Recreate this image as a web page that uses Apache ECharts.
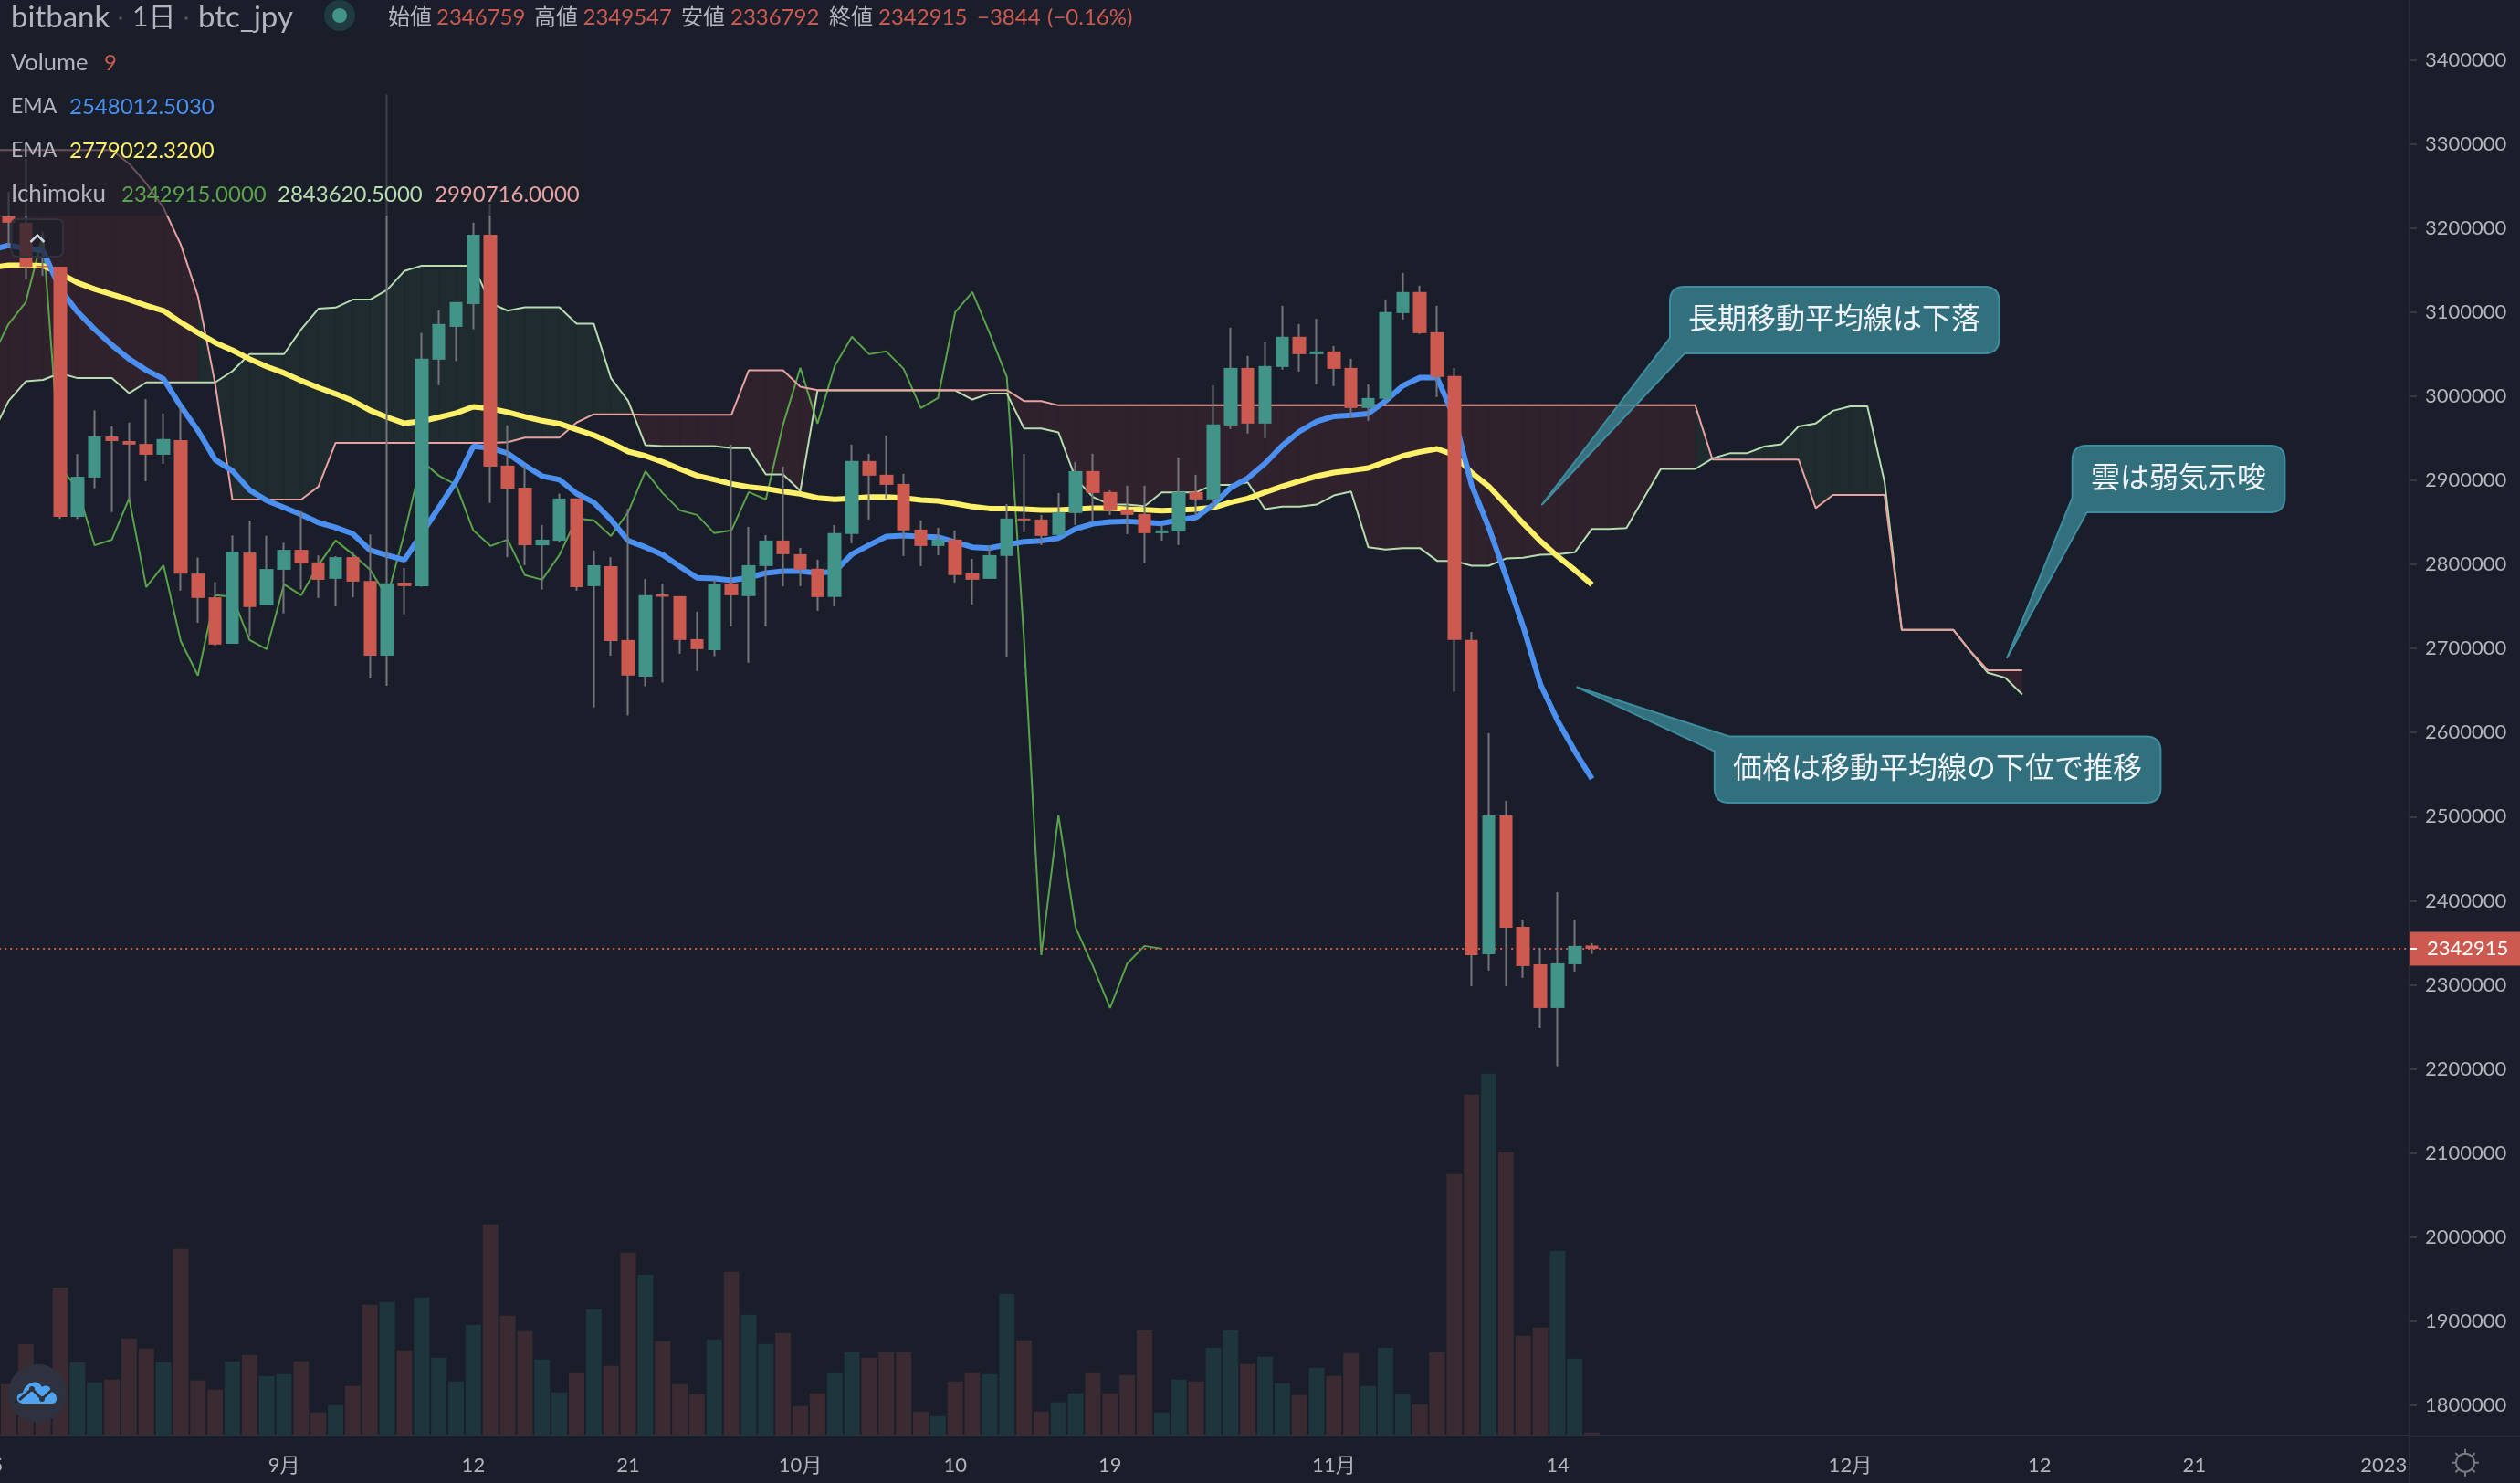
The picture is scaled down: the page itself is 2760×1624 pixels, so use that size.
<!DOCTYPE html>
<html>
<head>
<meta charset="utf-8">
<title>bitbank btc_jpy</title>
<style>
  html, body { margin: 0; padding: 0; background: #1a1e2a; }
  #chart { width: 2760px; height: 1624px; }
</style>
<script src="https://cdn.jsdelivr.net/npm/echarts@6/dist/echarts.min.js"></script>
</head>
<body>
<div id="chart"></div>
<script>
// prices in thousand JPY. one entry per day from 2022-08-15,
// the first day sits just off the left edge of the page
const opens = [3190,3213.8,3206.2,3155,3153.9,2856.4,2903.3,2952,2946.6,2943.2,2930.4,2947.8,2789,2760.8,2705.5,2814,2751.3,2793.6,2817.3,2802.4,2782.8,2808.6,2780.3,2691.4,2778.3,2774.1,3043.4,3082.4,3109.4,3192.1,2917.5,2891.3,2822.7,2828.1,2878.4,2774.1,2797.8,2710.1,2666.6,2764.4,2762.2,2711.1,2698.1,2777.4,2762.2,2798,2828.4,2812.1,2794.8,2761.1,2836,2922.9,2906.6,2895.7,2841.4,2821.9,2829.5,2789.3,2782.8,2810,2854.5,2853.4,2834.9,2861,2910.9,2886,2865.3,2859.9,2837.1,2839.3,2886,2877.3,2965.2,3033.6,2967.4,3034.7,3070.6,3049.9,3053.2,3033.6,2985.9,2996.7,3098.8,3123.8,3076,3023.9,2710.1,2336.5,2501.5,2369,2324.5,2272.4,2324.5,2346.759];
const closes = [3213.8,3206.3,3153.5,3153.5,2856.4,2904.2,2952,2946.6,2942.4,2930.4,2949,2789,2760,2704.7,2815.2,2749.2,2794.5,2817.3,2801.1,2781.6,2808.6,2779.5,2691.4,2777.4,2774.1,3044.6,3085.8,3111.9,3192.1,2916.2,2889.6,2822.7,2829.4,2878.4,2772.9,2799,2708.9,2667.8,2763.3,2761.5,2710.1,2699.2,2776.3,2763.3,2799.1,2828.4,2812.1,2793.7,2761.1,2837.1,2922.9,2905.5,2894.6,2840.4,2821.9,2829.5,2787.2,2781.7,2811,2854.5,2852.3,2833.8,2862.1,2910.9,2884.9,2864.2,2858.8,2837.1,2840.4,2886,2877.3,2966.3,3033.6,2967.4,3035.8,3070.6,3049.9,3053.2,3032.5,2985.9,2997.8,3099.9,3123.8,3074.9,3022.8,2710.1,2335.4,2501.5,2368,2322.4,2272.4,2325.6,2346.3,2342.915];
const highs = [3220,3242.8,3281.9,3195.9,3153.9,2931.2,2983.1,2964,2968.6,2996.4,2979.4,2986.9,2808.2,2779.1,2834.4,2852.2,2834,2825.6,2863.4,2810.7,2809.8,2814.8,2835.6,3359,2795.7,3075.4,3102,3111.9,3206.3,3229,2965.3,2917.5,2846.8,2884.2,2878.4,2816.5,2808.6,2866,2782.5,2777,2762.2,2743.7,2781.7,2942.4,2844.7,2834.9,2916.4,2819.7,2805.6,2846.9,2942.4,2931.6,2953.3,2907.7,2852.3,2843.6,2840.4,2806.7,2822.3,2871.8,2931.6,2858.8,2884.9,2921.8,2931.6,2888.1,2893.6,2893.6,2846.9,2927.2,2906.6,3013,3081.4,3047.8,3064,3107.5,3085.8,3091.9,3059.7,3044.5,3014.1,3115.1,3146.6,3131.4,3107.5,3033.6,2719.8,2599.2,2518.9,2377.7,2344.1,2410.3,2377.7,2349.547];
const lows = [3185,3177,3139,3143,2854,2853.9,2890.5,2862.2,2877.2,2898.8,2919.6,2768.7,2730.5,2703.5,2705.5,2713.9,2751.3,2741.7,2770,2760,2750,2760.8,2664.4,2655.7,2740.9,2773.3,3013,3041.7,3079.5,2873,2808.6,2799,2770,2826,2768.7,2630,2691.4,2620.4,2655,2659.4,2693.8,2673.1,2690.9,2726.3,2683,2726.3,2774.1,2774.1,2744.8,2750.2,2825,2853.4,2878.4,2810,2798,2811,2778.5,2752.4,2782.8,2689.4,2838.2,2823,2834.9,2846.9,2850.1,2858.8,2836,2801.3,2828.4,2823,2858,2866.4,2960.9,2955.5,2950,3031.5,3029.3,3014.1,3011.9,2974.3,2970.7,2995,3091.2,3073.8,2998.9,2648.5,2298.5,2317,2298.5,2308.3,2248.5,2203.3,2315.9,2336.792];
const volumes = [150,168,299,190,485,240,174,183,318,285,240,612,180,150,243,264,195,201,243,75,99,162,429,438,279,453,255,177,363,693,393,342,249,141,204,414,228,600,528,309,168,135,315,537,396,300,336,96,138,204,273,255,273,273,78,63,177,207,201,465,312,78,108,138,204,138,198,345,75,183,177,288,345,234,258,171,132,222,195,270,162,288,135,102,273,858,1119,1188,930,327,354,606,252,9];

const emaFast = [3174,3179.3,3176,3173,3127.3,3100.3,3079.5,3060.8,3044.2,3030.9,3020.5,2988.1,2959,2924.5,2911.2,2888.4,2875.9,2867.6,2859.3,2849.7,2843.9,2836.4,2816.9,2810.7,2805.3,2836.4,2867.6,2898.8,2940.3,2938.2,2932,2917.5,2905,2900.8,2884.2,2873.8,2853,2828.1,2820.5,2811.4,2797.7,2783.9,2783.2,2781,2784.3,2789.7,2791.9,2791.9,2789.7,2791.5,2812.1,2823,2833.1,2834.2,2833.1,2832.4,2826.6,2820.5,2819.4,2823.4,2827,2828.1,2831.3,2842.2,2848.3,2850.5,2851.2,2850.1,2848.7,2853,2855.9,2871.1,2891,2902.6,2920,2941,2958,2969.9,2976,2977.2,2979.3,2994.2,3012.3,3022,3022,2974.3,2894.6,2844,2786,2726.3,2657.5,2614.1,2577.9,2545];
const emaSlow = [3153,3155.6,3155.6,3155.2,3146,3134.8,3127.3,3121.1,3114.8,3107.8,3101.6,3087.8,3075.4,3063.7,3054.6,3044.2,3035.1,3027.6,3018.4,3010.1,3002.7,2994.3,2983.1,2974.8,2967.7,2970.2,2974.8,2979.8,2987.3,2985.2,2981,2975.6,2970.7,2967.3,2960.3,2953.6,2944.5,2934.1,2929,2921.8,2913.5,2905.5,2900.8,2895.7,2892.1,2890,2886.7,2883.8,2879.1,2877.3,2878.4,2880.2,2880.2,2879.1,2876.6,2875.5,2872.2,2868.6,2866.4,2866.4,2865.7,2864.6,2864.6,2865.7,2866.8,2866.8,2865.7,2865,2863.9,2864.6,2865.7,2867.5,2873.7,2878.4,2885.6,2892.8,2899,2904.8,2909.1,2911.7,2914.6,2921.8,2929,2933.7,2937.4,2930.1,2909.1,2892.8,2871.1,2848.7,2827.7,2809.6,2793.3,2776];

const lagSpan = [3044.6,3085.8,3111.9,3192.1,2916.2,2889.6,2822.7,2829.4,2878.4,2772.9,2799,2708.9,2667.8,2763.3,2761.5,2710.1,2699.2,2776.3,2763.3,2799.1,2828.4,2812.1,2793.7,2761.1,2837.1,2922.9,2905.5,2894.6,2840.4,2821.9,2829.5,2787.2,2781.7,2811,2854.5,2852.3,2833.8,2862.1,2910.9,2884.9,2864.2,2858.8,2837.1,2840.4,2886,2877.3,2966.3,3033.6,2967.4,3035.8,3070.6,3049.9,3053.2,3032.5,2985.9,2997.8,3099.9,3123.8,3074.9,3022.8,2710.1,2335.4,2501.5,2368,2322.4,2272.4,2325.6,2346.3,2342.915];
const spanA = [2952.8,2994.3,3017.6,3019.3,3027.2,3021.4,3021.4,3021.4,3003.5,3016.4,3016.4,3016.4,3016.4,3016.4,3029.7,3050,3050,3050,3079.5,3104,3105.3,3114.8,3114.8,3126.5,3148.9,3155.2,3155.2,3155.2,3155.2,3110.7,3101.6,3105.7,3105.7,3105.7,3086.2,3086.2,3021.4,2994.3,2941.7,2940.6,2940.6,2940.6,2940.6,2938.1,2938.1,2907,2907,2887.4,3006.8,3006.8,3006.8,3006.8,3006.8,3006.8,3006.8,3006.8,3006.8,2996,3003.2,3003.2,2961.6,2961.6,2956.9,2901.9,2880.2,2871.1,2871.1,2869.3,2885.6,2885.6,2885.6,2894.6,2894.6,2897.5,2865.7,2868.6,2868.6,2871.1,2882,2886.7,2820.5,2817.6,2819.4,2819.4,2804.2,2804.2,2798.4,2798.4,2807,2807.8,2811.4,2812.1,2814.3,2842.2,2842.2,2843.3,2878.4,2913.5,2913.5,2913.5,2925.9,2932.1,2932.1,2940.1,2942.7,2964,2967.6,2982.6,2987.9,2987.9,2897.9,2722,2722,2722,2722,2696.3,2671.1,2665.3,2645.4];
const spanB = [3292.8,3292.8,3292.8,3292.8,3292.8,3292.8,3292.8,3292.8,3276.5,3252.9,3224,3180.5,3118.9,3015.1,2877.2,2877.2,2877.2,2877.2,2877.2,2892.5,2944.5,2944.5,2944.5,2944.5,2944.5,2944.5,2944.5,2944.5,2944.5,2944.5,2945.3,2950.7,2950.7,2950.7,2968.6,2978.5,2978.5,2978.5,2977.9,2977.9,2977.9,2977.9,2977.9,2977.9,3030.7,3030.7,3030.7,3011.2,3007.2,3007.2,3007.2,3007.2,3007.2,3007.2,3007.2,3007.2,3007.2,3007.2,3007.2,3007.2,2994.2,2994.2,2989.1,2989.1,2989.1,2989.1,2989.1,2989.1,2989.1,2989.1,2989.1,2989.1,2989.1,2989.1,2989.1,2989.1,2989.1,2989.1,2989.1,2989.1,2989.1,2989.1,2989.1,2989.1,2989.1,2989.1,2989.1,2989.1,2989.1,2989.1,2989.1,2989.1,2989.1,2989.1,2989.1,2989.1,2989.1,2989.1,2989.1,2989.1,2924.6,2924.6,2924.6,2924.6,2924.6,2924.6,2866.9,2882.5,2882.5,2882.5,2882.5,2722,2722,2722,2722,2696.3,2674.2,2674.2,2674.2];

const lastPrice = 2342.915;
const tickDates = ['2022-08-15','2022-09-01','2022-09-12','2022-09-21','2022-10-01','2022-10-10','2022-10-19','2022-11-01','2022-11-14','2022-12-01','2022-12-12','2022-12-21','2023-01-01'];

// the time axis runs on past the last candle, out to the right edge of the plot
const dates = [];
for (let i = 0; i < 141; i++) {
  dates.push(new Date(Date.UTC(2022, 7, 15 + i)).toISOString().slice(0, 10));
}

const BG = '#1a1e2a';
const UP = '#429488', DOWN = '#cc5a50';
const UP_VOL = '#1d353b', DOWN_VOL = '#3a2a31';
const GREY = '#b2b5be', LINE = '#2d313d';
const FONT = 'Lato, "Noto Sans CJK JP", sans-serif';

const isTickDate = i => tickDates.includes(dates[i]);
const dateLabel = d => {
  const [y, m, day] = d.split('-').map(Number);
  if (day !== 1) return String(day);
  return m === 1 ? String(y) : m + '月';
};

const wickData = opens.map((o, i) => [o, closes[i], lows[i], highs[i]]);
const bodyData = opens.map((o, i) => [o, closes[i], Math.min(o, closes[i]), Math.max(o, closes[i])]);
const cloudData = spanA.slice(0, -1).map((a, i) => [i, a, spanB[i], spanA[i + 1], spanB[i + 1]]);

const chart = echarts.init(document.getElementById('chart'));

function text(str, x, y, fill, size, align) {
  return {
    type: 'text', silent: true,
    style: { text: str, x, y, fill, font: size + 'px ' + FONT, textAlign: align || 'left', textVerticalAlign: 'middle' }
  };
}

// graphic has no plain path type, svg strings have to be registered as shapes
function pathShape(name, pathData) {
  echarts.graphic.registerShape(name, echarts.graphic.extendPath(pathData, {}));
  return name;
}

function callout(name, path, label, x, y) {
  return [
    { type: pathShape(name, path), silent: true, style: { fill: 'rgba(57,133,148,0.8)', stroke: '#3e8ca0', lineWidth: 2 } },
    text(label, x, y, '#f0f3fa', 32, 'center')
  ];
}

const gearSpokes = [];
for (let a = 0; a < 8; a++) {
  const c = Math.cos(a * Math.PI / 4), s = Math.sin(a * Math.PI / 4);
  gearSpokes.push({
    type: 'line', silent: true,
    shape: { x1: 2700 + 10 * c, y1: 1601.7 + 10 * s, x2: 2700 + 15 * c, y2: 1601.7 + 15 * s },
    style: { stroke: '#787b86', lineWidth: 2 }
  });
}

const graphics = [
  // legend backdrop dims whatever runs under it
  { type: 'rect', silent: true, shape: { x: 0, y: 36, width: 640, height: 200 }, style: { fill: 'rgba(26,30,42,0.6)' } },

  text('bitbank', 12, 19, GREY, 33),
  { type: 'circle', silent: true, shape: { cx: 132, cy: 20, r: 2 }, style: { fill: '#4a4e59' } },
  text('1日', 145, 19, GREY, 30),
  { type: 'circle', silent: true, shape: { cx: 204, cy: 20, r: 2 }, style: { fill: '#4a4e59' } },
  text('btc_jpy', 217, 19, GREY, 33),
  { type: 'circle', silent: true, shape: { cx: 372, cy: 17, r: 17 }, style: { fill: '#1f3a40' } },
  { type: 'circle', silent: true, shape: { cx: 372, cy: 17, r: 8 }, style: { fill: UP } },

  text('始値', 425, 19, GREY, 24),
  text('2346759', 478, 19, DOWN, 24),
  text('高値', 585, 19, GREY, 24),
  text('2349547', 638.5, 19, DOWN, 24),
  text('安値', 746, 19, GREY, 24),
  text('2336792', 800, 19, DOWN, 24),
  text('終値', 908, 19, GREY, 24),
  text('2342915', 962, 19, DOWN, 24),
  text('−3844', 1070, 19, DOWN, 24),
  text('(−0.16%)', 1147, 19, DOWN, 24),

  text('Volume', 12, 69, GREY, 25.5),
  text('9', 114, 69, DOWN, 24),
  text('EMA', 12, 117, GREY, 23),
  text('2548012.5030', 76, 117, '#4b8ff0', 24),
  text('EMA', 12, 165, GREY, 23),
  text('2779022.3200', 76, 165, '#fff06a', 24),
  text('Ichimoku', 12, 213, GREY, 26),
  text('2342915.0000', 133, 213, '#5ba24c', 24),
  text('2843620.5000', 304, 213, '#b6dcb0', 24),
  text('2990716.0000', 476, 213, '#e8a1a0', 24),

  // collapse button
  { type: 'rect', silent: true, shape: { x: 12.5, y: 240, width: 56.5, height: 41, r: 6 }, style: { fill: 'rgba(26,30,42,0.72)', stroke: '#2f333f', lineWidth: 2 } },
  { type: 'polyline', silent: true, shape: { points: [[33.5, 265], [41, 257.5], [48.5, 265]] }, style: { stroke: '#d1d4dc', lineWidth: 2.5, fill: null } },

  ...callout('calloutLong', 'M1845 314 H2173.5 Q2189.5 314 2189.5 330 V371 Q2189.5 387 2173.5 387 H1845 L1688.4 553 L1829 370 V330 Q1829 314 1845 314 Z', '長期移動平均線は下落', 2009, 349.5),
  ...callout('calloutCloud', 'M2285.7 488 H2486.4 Q2502.4 488 2502.4 504 V545 Q2502.4 561 2486.4 561 H2285.6 L2198 720.8 L2269.7 545 V504 Q2269.7 488 2285.7 488 Z', '雲は弱気示唆', 2386, 523.5),
  ...callout('calloutPrice', 'M1894 806.5 H2350.4 Q2366.4 806.5 2366.4 822.5 V863 Q2366.4 879 2350.4 879 H1893.8 Q1877.8 879 1877.8 863 V822.7 L1726.6 752.3 Z', '価格は移動平均線の下位で推移', 2122, 842),

  // axis frame reaches the edge of the page
  { type: 'rect', silent: true, shape: { x: 2639, y: 1571.7, width: 121, height: 2 }, style: { fill: LINE } },
  { type: 'rect', silent: true, shape: { x: 2639, y: 1038, width: 8, height: 2 }, style: { fill: '#ffffff' } },

  // logo
  { type: 'circle', silent: true, shape: { cx: 41, cy: 1525.7, r: 32 }, style: { fill: '#2e323f' } },
  { type: pathShape('logoCloud', 'M26 1537 C17 1537 16 1526 25 1525 C27 1515 41 1508 46 1519 C52 1515 57 1520 55 1524 C63 1524 65 1537 57 1537 Z'), silent: true, style: { fill: '#4fa3ef' } },
  { type: 'polyline', silent: true, shape: { points: [[21, 1533], [35, 1521], [46, 1532], [60, 1519]] }, style: { stroke: '#2e323f', lineWidth: 3, fill: null } },
  { type: 'circle', silent: true, shape: { cx: 35, cy: 1521, r: 3 }, style: { fill: '#2e323f' } },
  { type: 'circle', silent: true, shape: { cx: 46, cy: 1532, r: 3 }, style: { fill: '#2e323f' } },

  // settings icon
  { type: 'circle', silent: true, shape: { cx: 2700, cy: 1601.7, r: 10 }, style: { fill: null, stroke: '#787b86', lineWidth: 2 } },
  ...gearSpokes
].map(g => ({ ...g, z: 100 }));

const option = {
  backgroundColor: BG,
  animation: false,
  textStyle: { fontFamily: FONT },
  // outerBoundsMode off: the plot deliberately hangs over the page edges
  grid: [
    { left: -18.85, width: 2657.85, top: -26.67, height: 1657.8, outerBoundsMode: 'none' },
    { left: -18.85, width: 2657.85, top: 0, height: 1571.7, outerBoundsMode: 'none' }
  ],
  xAxis: [
    { type: 'category', gridIndex: 0, data: dates, show: false },
    {
      type: 'category', gridIndex: 1, data: dates,
      axisLine: { lineStyle: { color: LINE, width: 2 } },
      axisTick: { alignWithLabel: true, length: 7, interval: i => isTickDate(i), lineStyle: { color: '#363a45', width: 2 } },
      axisLabel: { interval: i => isTickDate(i), formatter: dateLabel, color: GREY, fontSize: 22, margin: 22, hideOverlap: false }
    }
  ],
  yAxis: [
    {
      type: 'value', gridIndex: 0, position: 'right', min: 1700, max: 3500, interval: 100,
      splitLine: { show: false },
      axisLine: { show: true, lineStyle: { color: LINE, width: 2 } },
      axisTick: { show: true, length: 8, lineStyle: { color: '#363a45', width: 2 } },
      axisLabel: { color: GREY, fontSize: 22, margin: 17, padding: [8, 0, 0, 0], showMinLabel: false, showMaxLabel: false, formatter: v => String(v * 1000) }
    },
    { type: 'value', gridIndex: 1, min: 0, max: 4715, show: false }
  ],
  series: [
    {
      name: 'Volume', type: 'bar', xAxisIndex: 1, yAxisIndex: 1, z: 1, barWidth: 17,
      data: volumes,
      itemStyle: { color: p => closes[p.dataIndex] >= opens[p.dataIndex] ? UP_VOL : DOWN_VOL }
    },
    {
      name: 'Cloud', type: 'custom', xAxisIndex: 0, yAxisIndex: 0, z: 2, clip: true,
      data: cloudData,
      renderItem: (params, api) => {
        const i = api.value(0);
        const a0 = api.value(1), b0 = api.value(2), a1 = api.value(3), b1 = api.value(4);
        const fill = a1 >= b1 ? '#1f2b2e' : '#30222c';
        return {
          type: 'polygon', silent: true,
          shape: { points: [api.coord([i, a0]), api.coord([i + 1, a1]), api.coord([i + 1, b1]), api.coord([i, b0])] },
          style: { fill, stroke: fill, lineWidth: 0.5 }
        };
      }
    },
    { name: 'Lagging', type: 'line', z: 3, data: lagSpan, showSymbol: false, lineStyle: { color: '#5ba24c', width: 2 } },
    { name: 'Span A', type: 'line', z: 3, data: spanA, showSymbol: false, lineStyle: { color: '#b6dcb0', width: 2 } },
    { name: 'Span B', type: 'line', z: 3, data: spanB, showSymbol: false, lineStyle: { color: '#e8a1a0', width: 2 } },
    { name: 'EMA slow', type: 'line', z: 4, data: emaSlow, showSymbol: false, lineStyle: { color: '#fff06a', width: 6 } },
    {
      name: 'EMA fast', type: 'line', z: 4, data: emaFast, showSymbol: false, lineStyle: { color: '#4b8ff0', width: 6 },
      markLine: {
        silent: true, symbol: 'none', animation: false,
        lineStyle: { color: DOWN, type: [2, 4], width: 2 },
        label: {
          position: 'end', distance: 0, formatter: () => String(Math.round(lastPrice * 1000)),
          backgroundColor: DOWN, color: '#ffffff', fontSize: 22, padding: [8, 17, 7, 19]
        },
        data: [{ yAxis: lastPrice }]
      }
    },
    {
      name: 'Wicks', type: 'candlestick', z: 5, barWidth: 1, data: wickData,
      itemStyle: { color: '#75767c', color0: '#75767c', borderColor: '#75767c', borderColor0: '#75767c', borderWidth: 2 }
    },
    {
      name: 'Bodies', type: 'candlestick', z: 6, barWidth: 15, data: bodyData,
      itemStyle: { color: UP, color0: DOWN, borderColor: UP, borderColor0: DOWN, borderWidth: 0 }
    }
  ],
  graphic: { elements: graphics }
};

chart.setOption(option);
</script>
</body>
</html>
